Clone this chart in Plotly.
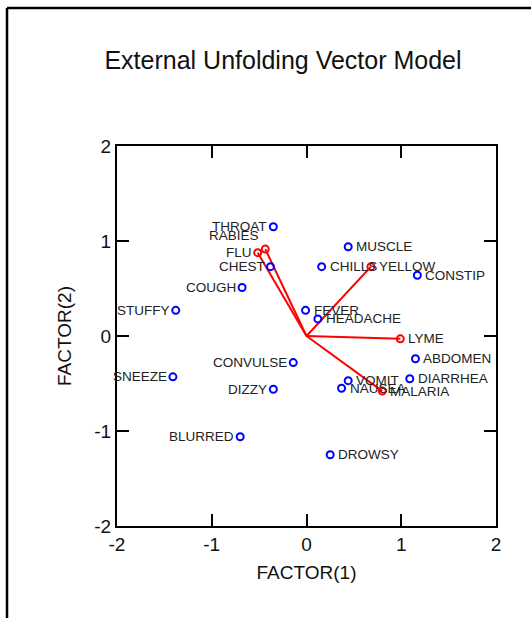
import plotly.graph_objects as go

# Symptom (row) points
symptoms = ["THROAT", "CHEST", "COUGH", "STUFFY", "FEVER", "HEADACHE", "MUSCLE",
            "CHILLS", "CONSTIP", "ABDOMEN", "DIARRHEA", "VOMIT", "NAUSEA",
            "CONVULSE", "SNEEZE", "DIZZY", "BLURRED", "DROWSY"]
symptom_x = [-0.35, -0.38, -0.68, -1.38, -0.01, 0.12, 0.44, 0.16, 1.17, 1.15,
             1.09, 0.44, 0.37, -0.14, -1.41, -0.35, -0.70, 0.25]
symptom_y = [1.15, 0.73, 0.51, 0.27, 0.27, 0.18, 0.94, 0.73, 0.64, -0.24,
             -0.45, -0.47, -0.55, -0.28, -0.43, -0.56, -1.06, -1.25]

# Disease (column) vectors
diseases = ["RABIES", "FLU", "YELLOW", "LYME", "MALARIA"]
disease_x = [-0.435, -0.515, 0.68, 0.99, 0.80]
disease_y = [0.915, 0.877, 0.73, -0.03, -0.58]

# tick values and labels
tick_vals = [-2, -1, 0, 1, 2]
tick_text = ["-2", "-1", "0", "1", "2"]

# label placement (style only)
symptom_side = ["left", "left", "left", "left", "right", "right", "right",
                "right", "right", "right", "right", "right", "right",
                "left", "left", "left", "left", "right"]
disease_side = ["left", "left", "right", "right", "right"]
disease_yshift = [14, 0, 0, 0, 0]

FONT = "Liberation Sans, Arial, sans-serif"

fig = go.Figure()

# vectors
vx, vy = [], []
for x, y in zip(disease_x, disease_y):
    vx += [0, x, None]
    vy += [0, y, None]
fig.add_trace(go.Scatter(x=vx, y=vy, mode="lines",
                         line=dict(color="#ff0000", width=2),
                         hoverinfo="skip", showlegend=False))
fig.add_trace(go.Scatter(x=disease_x, y=disease_y, mode="markers",
                         marker=dict(symbol="circle-open", size=7,
                                     color="#ff0000", line=dict(width=2)),
                         text=diseases, showlegend=False))
fig.add_trace(go.Scatter(x=symptom_x, y=symptom_y, mode="markers",
                         marker=dict(symbol="circle-open", size=7,
                                     color="#0000ff", line=dict(width=2)),
                         text=symptoms, showlegend=False))

annots = []
for name, x, y, side in zip(symptoms, symptom_x, symptom_y, symptom_side):
    annots.append(dict(x=x, y=y, text=name, showarrow=False,
                       xanchor="right" if side == "left" else "left",
                       yanchor="middle",
                       xshift=-4 if side == "left" else 6,
                       font=dict(family=FONT, size=13.5, color="#222222")))
for name, x, y, side, ys in zip(diseases, disease_x, disease_y, disease_side, disease_yshift):
    annots.append(dict(x=x, y=y, text=name, showarrow=False,
                       xanchor="right" if side == "left" else "left",
                       yanchor="middle",
                       xshift=-4 if side == "left" else 6, yshift=ys,
                       font=dict(family=FONT, size=13.5, color="#222222")))

axis_common = dict(range=[-2, 2], tickvals=tick_vals, ticktext=tick_text,
                   ticks="inside", ticklen=12,
                   tickwidth=2, tickcolor="black", showline=True, linewidth=2,
                   linecolor="black", mirror="ticks", showgrid=False,
                   zeroline=False, tickfont=dict(family=FONT, size=19, color="#111111"))

fig.update_layout(
    width=531, height=618,
    margin=dict(l=117, r=35, t=146, b=92),
    plot_bgcolor="white", paper_bgcolor="white",
    title=dict(text="External Unfolding Vector Model", x=0.533, xanchor="center",
               y=1 - 60 / 618, yanchor="middle",
               font=dict(family=FONT, size=25, color="#111111")),
    xaxis=dict(**axis_common, title=dict(text="FACTOR(1)", standoff=12,
                                         font=dict(family=FONT, size=19, color="#111111"))),
    yaxis=dict(**axis_common, title=dict(text="FACTOR(2)", standoff=18,
                                         font=dict(family=FONT, size=19, color="#111111"))),
    annotations=annots,
    shapes=[
        dict(type="line", xref="paper", yref="paper", x0=-0.2902, x1=1.2,
             y0=1.363, y1=1.363, line=dict(color="black", width=2.5)),
        dict(type="line", xref="paper", yref="paper", x0=-0.2902, x1=-0.2902,
             y0=-0.3, y1=1.363, line=dict(color="black", width=2.5)),
    ],
)

fig.write_html("out.html")
